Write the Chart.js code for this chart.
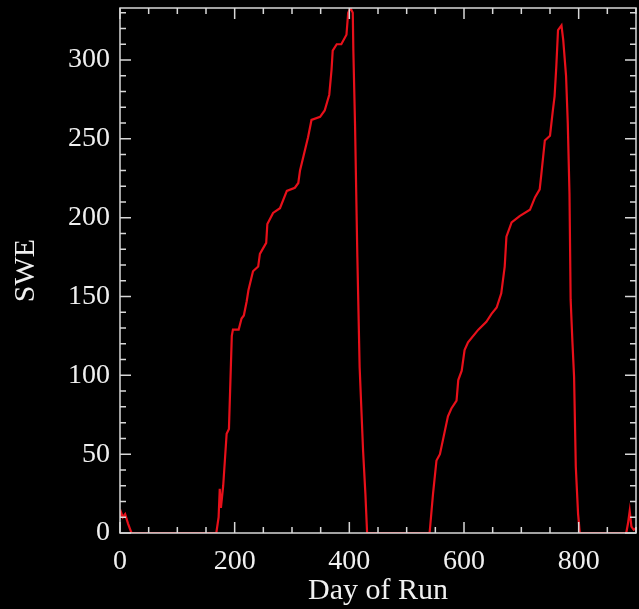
<!DOCTYPE html>
<html>
<head>
<meta charset="utf-8">
<script src="https://cdn.jsdelivr.net/npm/chart.js@4/dist/chart.umd.min.js"></script>
<style>
  html, body { margin: 0; padding: 0; background: #000; }
  #wrap { width: 639px; height: 609px; }
</style>
</head>
<body>
<div id="wrap"><canvas id="sweChart"></canvas></div>
<script>
// day of run and snow water equivalent
const days = [0, 2, 5, 9, 14, 20, 60, 120, 168, 172, 174, 176, 180, 186, 190, 195, 197, 207, 212, 216, 221,
  224, 232, 241, 244, 255, 257, 267, 279, 291, 305, 311, 314, 320, 328, 334, 349, 357, 365, 369, 371,
  378, 386, 395, 398, 402, 406, 407, 410, 414, 418, 424, 428, 431, 480, 540,
  546, 552, 558, 572, 578, 587, 590, 596, 601, 607, 625, 639, 648, 657, 665, 671, 674, 683, 697, 715,
  724, 732, 735, 741, 750, 755, 758, 761, 764, 770, 773, 778, 781, 784, 786, 789, 792, 795, 799, 802,
  840, 883, 886, 889, 892, 896, 900];
const swe = [10, 13, 10, 12, 6, 0, 0, 0, 0, 10, 28, 16, 30, 63, 66, 125, 129, 129, 136, 138, 147,
  154, 166, 169, 177, 184, 196, 203, 206, 217, 219, 222, 230, 239, 251, 262, 264, 268, 278, 294, 306,
  310, 310, 316, 330, 333, 330, 306, 258, 175, 105, 52, 25, 0, 0, 0,
  25, 46, 50, 74, 79, 84, 97, 103, 116, 121, 129, 134, 139, 143, 152, 169, 188, 197, 201, 205,
  213, 218, 228, 249, 252, 268, 277, 296, 319, 322, 313, 290, 260, 215, 148, 122, 99, 42, 12, 0,
  0, 0, 6, 14, 4, 2, 3];

const xMajor = [0, 200, 400, 600, 800];
const yMajor = [0, 50, 100, 150, 200, 250, 300];

// IDL-style frame with inward ticks on all four sides
const frameTicks = {
    id: 'frameTicks',
    afterDraw(chart) {
        const c = chart.ctx, a = chart.chartArea;
        const x = chart.scales.x, y = chart.scales.y;
        c.save();
        c.strokeStyle = '#d8d8d8';
        c.lineWidth = 1.5;
        c.strokeRect(a.left, a.top, a.right - a.left, a.bottom - a.top);
        c.beginPath();
        for (let v = 0; v <= x.max; v += 50) {
            const px = x.getPixelForValue(v);
            const len = v % 200 === 0 ? 11 : 6;
            c.moveTo(px, a.bottom); c.lineTo(px, a.bottom - len);
            c.moveTo(px, a.top); c.lineTo(px, a.top + len);
        }
        for (let v = 0; v <= y.max; v += 10) {
            const py = y.getPixelForValue(v);
            const len = v % 50 === 0 ? 11 : 6;
            c.moveTo(a.left, py); c.lineTo(a.left + len, py);
            c.moveTo(a.right, py); c.lineTo(a.right - len, py);
        }
        c.stroke();
        c.restore();
    }
};

const font = { family: "'Liberation Serif', 'DejaVu Serif', serif", size: 28 };

new Chart(document.getElementById('sweChart').getContext('2d'), {
    type: 'line',
    data: {
        datasets: [{
            data: days.map((d, i) => ({ x: d, y: swe[i] })),
            borderColor: '#e8101a',
            borderWidth: 2.2,
            pointRadius: 0,
            tension: 0
        }]
    },
    options: {
        responsive: true,
        maintainAspectRatio: false,
        animation: false,
        layout: { padding: { top: 8, right: 3, left: 0, bottom: 0 } },
        plugins: { legend: { display: false }, tooltip: { enabled: false } },
        scales: {
            x: {
                type: 'linear',
                min: 0,
                max: 900,
                afterFit: s => { s.height = 76; s.paddingLeft = 0; s.paddingRight = 0; },
                afterBuildTicks: s => { s.ticks = xMajor.map(v => ({ value: v })); },
                grid: { display: false, drawTicks: false },
                border: { display: false },
                ticks: { color: '#f0f0f0', font: font, padding: 12, maxRotation: 0 },
                title: { display: true, text: 'Day of Run', color: '#f0f0f0',
                    font: { family: font.family, size: 30 }, padding: { top: -10, bottom: 0 } }
            },
            y: {
                min: 0,
                max: 333,
                afterFit: s => { s.width = 120; s.paddingTop = 0; s.paddingBottom = 0; },
                afterBuildTicks: s => { s.ticks = yMajor.map(v => ({ value: v })); },
                grid: { display: false, drawTicks: false },
                border: { display: false },
                ticks: { color: '#f0f0f0', font: font, padding: 10 },
                title: { display: true, text: 'SWE', color: '#f0f0f0',
                    font: { family: font.family, size: 30 }, padding: { top: 8, bottom: 0 } }
            }
        }
    },
    plugins: [frameTicks]
});
</script>
</body>
</html>
